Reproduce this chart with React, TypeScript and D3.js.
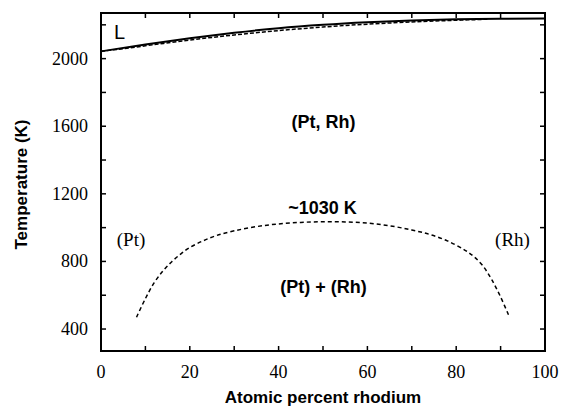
import React from "react";
import * as d3 from "d3";

const xTicksMajor = [0, 20, 40, 60, 80, 100];
const xTicksMinor = [0, 10, 20, 30, 40, 50, 60, 70, 80, 90, 100];
const yTicksMajor = [400, 800, 1200, 1600, 2000];
const yTicksMinor = [400, 600, 800, 1000, 1200, 1400, 1600, 1800, 2000, 2200];

const liquidusX = [0, 10, 20, 30, 40, 50, 60, 70, 80, 90, 100];
const liquidusT = [2043, 2084, 2121, 2153, 2180, 2200, 2215, 2226, 2233, 2236, 2237];

const solidusX = [0, 10, 20, 30, 40, 50, 60, 70, 80, 87];
const solidusT = [2043, 2076, 2110, 2140, 2166, 2187, 2204, 2217, 2227, 2233];

const gapX = [8, 10, 12, 14, 16, 18, 20, 23, 26, 30, 35, 40, 45, 50, 55, 60, 65, 70, 74, 78, 82, 84, 86, 88, 90, 92];
const gapT = [470, 580, 675, 745, 800, 845, 882, 922, 953, 981, 1006, 1022, 1031, 1035, 1034, 1027, 1011, 986, 960, 922, 866, 828, 774, 692, 590, 470];

const W = 561;
const H = 408;
const L = 101, R = 545, T = 13, B = 351;

export default function App() {
  const x = d3.scaleLinear().domain([0, 100]).range([L, R]);
  const y = d3.scaleLinear().domain([270, 2270]).range([B, T]);
  const line = d3
    .line<[number, number]>()
    .x((d) => x(d[0]))
    .y((d) => y(d[1]))
    .curve(d3.curveMonotoneX);
  const liq = line(liquidusX.map((v, i) => [v, liquidusT[i]]) as [number, number][]) || "";
  const sol = line(solidusX.map((v, i) => [v, solidusT[i]]) as [number, number][]) || "";
  const gap = d3
    .line<[number, number]>()
    .x((d) => x(d[0]))
    .y((d) => y(d[1]))
    .curve(d3.curveCatmullRom.alpha(0.5))(gapX.map((v, i) => [v, gapT[i]]) as [number, number][]) || "";
  const serif = "'Liberation Serif', 'Times New Roman', serif";
  const sans = "'Liberation Sans', Arial, sans-serif";
  const tl = 5;
  return (
    <svg width={W} height={H} style={{ position: "absolute", left: 0, top: 0, background: "#fff" }}>
      <rect x={0} y={0} width={W} height={H} fill="#fff" />
      <g stroke="#000" strokeWidth={1.5}>
        {xTicksMinor.map((t) => (
          <g key={"x" + t}>
            <line x1={x(t)} x2={x(t)} y1={B} y2={B - tl} />
            <line x1={x(t)} x2={x(t)} y1={T} y2={T + tl} />
          </g>
        ))}
        {yTicksMinor.map((t) => (
          <g key={"y" + t}>
            <line x1={L} x2={L + tl} y1={y(t)} y2={y(t)} />
            <line x1={R} x2={R - tl} y1={y(t)} y2={y(t)} />
          </g>
        ))}
      </g>
      <rect x={L} y={T} width={R - L} height={B - T} fill="none" stroke="#000" strokeWidth={2} />
      <g fontFamily={serif} fontSize={18} fill="#000">
        {xTicksMajor.map((t) => (
          <text key={"xl" + t} x={x(t)} y={378} textAnchor="middle">
            {t}
          </text>
        ))}
        {yTicksMajor.map((t) => (
          <text key={"yl" + t} x={88} y={y(t) + 6} textAnchor="end">
            {t}
          </text>
        ))}
      </g>
      <path d={liq} fill="none" stroke="#000" strokeWidth={2} />
      <path d={sol} fill="none" stroke="#000" strokeWidth={1.5} strokeDasharray="4,2" />
      <path d={gap} fill="none" stroke="#000" strokeWidth={1.5} strokeDasharray="4,3" />
      <g fontFamily={sans} fill="#000">
        <text x={114} y={39} fontSize={20}>L</text>
        <text x={323.5} y={128} fontSize={18} fontWeight="bold" textAnchor="middle">(Pt, Rh)</text>
        <text x={322.5} y={214} fontSize={18} fontWeight="bold" textAnchor="middle">~1030 K</text>
        <text x={323.5} y={293} fontSize={18} fontWeight="bold" textAnchor="middle">(Pt) + (Rh)</text>
        <text x={323} y={403} fontSize={17} fontWeight="bold" textAnchor="middle">
          Atomic percent rhodium
        </text>
        <text
          transform={`translate(27, 184.5) rotate(-90)`}
          fontSize={17}
          fontWeight="bold"
          textAnchor="middle"
        >
          Temperature (K)
        </text>
      </g>
      <g fontFamily={serif} fontSize={19} fill="#000">
        <text x={131} y={246} textAnchor="middle">(Pt)</text>
        <text x={512.5} y={246} textAnchor="middle">(Rh)</text>
      </g>
    </svg>
  );
}
